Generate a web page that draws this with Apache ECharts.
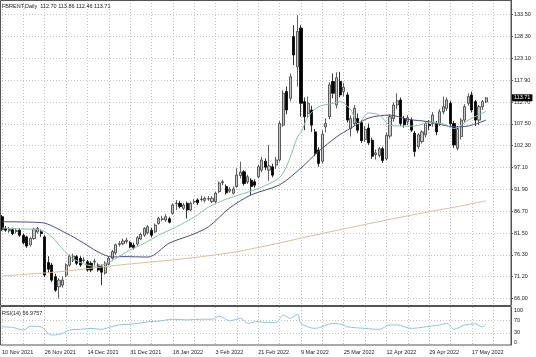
<!DOCTYPE html>
<html><head><meta charset="utf-8">
<script src="https://cdn.jsdelivr.net/npm/echarts@6/dist/echarts.min.js"></script>
<style>html,body{margin:0;padding:0;background:#fff}#c{width:536px;height:357px}</style>
</head><body><div id="c"></div>
<script>
const dates = ['10 Nov 2021','11 Nov 2021','12 Nov 2021','15 Nov 2021','16 Nov 2021','17 Nov 2021','18 Nov 2021','19 Nov 2021','22 Nov 2021','23 Nov 2021','24 Nov 2021','25 Nov 2021','26 Nov 2021','29 Nov 2021','30 Nov 2021',
'1 Dec 2021','2 Dec 2021','3 Dec 2021','6 Dec 2021','7 Dec 2021','8 Dec 2021','9 Dec 2021','10 Dec 2021','13 Dec 2021','14 Dec 2021','15 Dec 2021','16 Dec 2021','17 Dec 2021','20 Dec 2021','21 Dec 2021','22 Dec 2021','23 Dec 2021','27 Dec 2021','28 Dec 2021','29 Dec 2021','30 Dec 2021','31 Dec 2021',
'3 Jan 2022','4 Jan 2022','5 Jan 2022','6 Jan 2022','7 Jan 2022','10 Jan 2022','11 Jan 2022','12 Jan 2022','13 Jan 2022','14 Jan 2022','17 Jan 2022','18 Jan 2022','19 Jan 2022','20 Jan 2022','21 Jan 2022','24 Jan 2022','25 Jan 2022','26 Jan 2022','27 Jan 2022','28 Jan 2022','31 Jan 2022',
'1 Feb 2022','2 Feb 2022','3 Feb 2022','4 Feb 2022','7 Feb 2022','8 Feb 2022','9 Feb 2022','10 Feb 2022','11 Feb 2022','14 Feb 2022','15 Feb 2022','16 Feb 2022','17 Feb 2022','18 Feb 2022','21 Feb 2022','22 Feb 2022','23 Feb 2022','24 Feb 2022','25 Feb 2022','28 Feb 2022',
'1 Mar 2022','2 Mar 2022','3 Mar 2022','4 Mar 2022','7 Mar 2022','8 Mar 2022','9 Mar 2022','10 Mar 2022','11 Mar 2022','14 Mar 2022','15 Mar 2022','16 Mar 2022','17 Mar 2022','18 Mar 2022','21 Mar 2022','22 Mar 2022','23 Mar 2022','24 Mar 2022','25 Mar 2022','28 Mar 2022','29 Mar 2022','30 Mar 2022','31 Mar 2022',
'1 Apr 2022','4 Apr 2022','5 Apr 2022','6 Apr 2022','7 Apr 2022','8 Apr 2022','11 Apr 2022','12 Apr 2022','13 Apr 2022','14 Apr 2022','18 Apr 2022','19 Apr 2022','20 Apr 2022','21 Apr 2022','22 Apr 2022','25 Apr 2022','26 Apr 2022','27 Apr 2022','28 Apr 2022','29 Apr 2022',
'2 May 2022','3 May 2022','4 May 2022','5 May 2022','6 May 2022','9 May 2022','10 May 2022','11 May 2022','12 May 2022','13 May 2022','16 May 2022','17 May 2022','18 May 2022','19 May 2022','20 May 2022','23 May 2022','24 May 2022','25 May 2022','26 May 2022','27 May 2022','30 May 2022','31 May 2022','1 Jun 2022'];

// [open, high, low, close]
const candles = [
[85.4,85.8,82.0,82.4],[82.6,83.2,81.8,82.2],[82.0,83.0,81.6,82.4],[82.3,82.8,81.0,81.4],[81.9,82.6,81.4,82.1],
[82.2,82.6,80.6,81.0],[81.0,81.4,78.8,79.2],[80.6,80.9,78.0,78.4],[78.7,80.6,78.3,80.2],[80.2,82.8,79.9,82.4],
[81.8,83.0,81.4,82.6],[81.8,82.4,80.6,81.4],[80.6,81.0,71.0,71.5],[74.5,76.0,72.0,72.9],[73.9,74.4,69.8,70.3],
[71.1,71.8,67.5,67.9],[68.7,70.8,65.9,70.3],[69.1,71.2,68.5,70.3],[71.5,74.3,71.0,73.9],[73.9,76.4,73.5,76.0],
[75.1,76.6,74.6,76.0],[75.9,76.3,73.9,74.3],[75.5,76.0,73.5,73.9],[75.0,75.8,74.5,75.1],[74.7,75.1,72.3,72.7],
[74.3,74.8,72.2,72.7],[74.6,75.4,73.8,74.8],[73.9,74.3,72.3,72.7],[73.6,74.0,69.1,72.2],[72.0,74.8,71.6,74.4],
[74.1,76.0,73.8,75.5],[75.5,77.5,75.2,77.1],[76.8,79.0,76.3,78.7],[78.8,79.6,78.3,79.0],[79.0,80.2,78.6,79.6],
[79.5,80.4,79.0,79.8],[79.2,79.6,77.9,78.2],[78.6,79.2,77.6,78.0],[78.9,80.8,78.5,80.4],[80.1,81.6,79.8,81.2],
[81.0,82.9,80.6,82.6],[81.6,83.4,81.2,83.0],[82.2,82.8,80.5,81.0],[81.8,83.8,81.5,83.4],[83.8,85.4,83.5,85.0],
[84.8,85.6,84.3,84.9],[84.6,86.0,84.2,85.4],[84.9,85.4,83.8,84.1],[86.2,88.6,85.9,88.2],[88.5,89.4,87.0,88.6],
[88.6,89.2,87.4,87.8],[87.4,88.7,87.0,88.2],[88.6,89.0,85.0,87.0],[87.0,89.0,86.7,88.6],[88.9,89.6,88.4,89.0],
[89.4,89.8,88.2,88.7],[89.5,90.4,89.0,89.6],[89.3,90.2,88.8,89.8],[89.6,90.3,89.2,89.7],[89.0,90.3,88.6,89.8],
[89.0,91.4,88.7,91.0],[91.4,93.8,91.0,93.4],[93.5,94.2,92.9,93.7],[92.6,93.1,90.7,91.1],[91.5,92.5,91.1,91.9],
[91.0,92.6,90.7,92.0],[92.6,96.9,92.3,95.3],[95.2,98.5,94.5,96.0],[96.1,96.5,92.8,93.3],[93.7,95.4,93.2,94.9],
[94.1,94.6,90.6,92.6],[93.7,94.3,92.3,92.9],[94.9,97.8,94.5,97.3],[96.5,99.7,96.0,98.9],[98.6,99.3,96.5,97.2],
[96.5,102.5,94.0,97.5],[97.3,98.0,94.8,95.3],[97.7,99.6,96.8,98.9],[98.9,108.2,98.5,107.6],[107.2,115.5,106.8,114.8],
[115.2,116.4,109.8,110.8],[113.6,119.5,112.9,118.7],[128.3,131.0,121.5,123.9],[121.1,133.4,116.4,129.5],[130.3,131.0,109.2,112.4],
[112.8,113.8,106.0,109.2],[110.0,114.0,108.9,112.4],[110.8,111.8,105.6,107.2],[105.6,106.3,99.8,100.5],[101.3,102.0,97.3,98.1],
[98.6,106.0,98.0,105.0],[106.8,108.8,105.5,107.6],[109.2,117.4,108.6,116.8],[117.6,119.5,113.6,114.8],[112.0,119.8,111.2,118.5],
[117.6,119.9,113.8,114.4],[115.2,117.3,114.0,116.2],[114.4,115.0,107.8,108.4],[106.4,109.5,104.5,108.8],[107.6,112.0,107.0,111.2],
[108.8,110.0,105.3,106.0],[107.8,108.4,103.0,103.5],[103.8,107.0,103.2,106.2],[106.5,107.6,102.5,103.0],[103.6,104.2,99.2,99.8],
[100.2,101.4,99.0,100.6],[100.0,102.0,99.5,101.6],[101.6,102.1,98.2,98.8],[99.2,105.4,98.8,104.8],[104.6,109.8,104.0,109.2],
[108.8,112.6,108.0,112.0],[112.0,114.8,111.0,113.0],[113.2,113.8,107.0,107.6],[108.6,109.4,106.6,107.3],[108.0,109.6,107.2,108.9],
[108.4,109.0,105.6,106.0],[105.3,105.8,99.7,100.9],[102.1,105.3,101.5,104.9],[103.3,106.0,102.8,105.6],[104.9,108.1,104.3,107.6],
[107.4,108.4,106.0,107.1],[107.6,110.3,106.8,109.6],[107.6,108.2,104.8,105.6],[107.6,111.0,107.0,110.4],[110.4,114.0,109.8,111.6],
[111.2,113.8,110.6,113.2],[112.4,113.0,107.0,107.6],[107.6,108.2,101.8,102.5],[101.7,107.0,101.2,106.4],[104.5,108.9,103.8,108.4],
[108.4,112.2,107.8,111.6],[112.4,114.8,111.8,114.0],[114.4,115.2,110.2,110.8],[112.8,113.2,107.0,108.4],[108.4,112.0,107.2,111.6],
[111.6,113.2,110.8,112.8],[112.70,113.86,112.46,113.71]];

// moving averages: [bar index, value]
const maFast = [[0,82.7],[5,82.5],[11,82.2],[14,80.6],[16,78.7],[19,76.0],[22,74.5],[26,73.6],[30,74.5],[33,76.0],[36,77.5],[40,79.1],[44,81.0],[49,83.0],[54,85.3],[58,87.7],[61,88.9],[64,89.9],[71,91.8],[77,94.1],[79,95.8],[81,99.6],[83,104.4],[84,105.5],[86,109.2],[89,111.6],[93,112.4],[95,112.8],[98,110.8],[100,107.5],[103,110.1],[106,109.6],[109,107.2],[112,107.0],[116,107.0],[120,107.8],[124,107.5],[127,106.4],[131,108.4],[136,110.5]];
const maSlow = [[0,84.2],[11,84.0],[18,81.5],[23,79.1],[27,77.0],[31,75.8],[34,75.9],[41,75.8],[47,79.1],[53,81.0],[58,83.0],[64,87.5],[70,90.6],[78,93.0],[84,97.0],[89,101.0],[94,104.4],[98,106.5],[103,108.9],[109,109.6],[114,108.6],[120,108.0],[127,106.8],[131,107.0],[136,108.4]];
const ma200 = [[0,71.3],[16,72.3],[33,73.9],[50,75.3],[64,76.8],[75,78.6],[84,80.3],[96,82.5],[108,84.6],[120,86.6],[128,87.8],[136,89.2]];
const rsi = [[0,49],[3,47],[6,39],[8,51],[11,49],[13,28],[14,23],[17,28],[19,39],[22,41],[25,44],[28,41],[30,47],[33,55],[37,58],[41,65],[44,67],[48,73],[52,71],[56,73],[59,73],[61,83],[64,68],[67,76],[69,60],[72,66],[74,63],[77,63],[79,86],[81,76],[83,89],[84,60],[88,44],[93,60],[96,55],[97,49],[102,44],[106,41],[109,55],[111,55],[115,44],[119,49],[123,55],[125,60],[127,41],[130,55],[133,58],[135,49],[136,57]];
const priceTicks = [66.00,71.20,76.30,81.50,86.70,91.90,97.10,102.30,107.50,112.70,117.90,123.10,128.30,133.50];
const rsiLabels = [0,30,70,100];
const rsiLevels = [30,70];
const rsiLast = '56.9757';

const last = candles[candles.length-1];
const FONT = '"Liberation Sans", Arial, sans-serif';
const FS = 5.5;
const GRID = '#c4c4c4';
const chart = echarts.init(document.getElementById('c'), null, {renderer:'canvas'});
const axisText = {fontSize:FS, color:'#222', fontFamily:FONT};
chart.setOption({
  animation:false,
  backgroundColor:'#fff',
  textStyle:{fontFamily:FONT},
  title:[
    {text:'FBRENT,Daily  ' + last.map(v=>v.toFixed(2)).join(' '), left:2, top:3, padding:0,
     textStyle:{fontSize:FS, fontWeight:'normal', color:'#222', fontFamily:FONT}},
    {text:'RSI(14) ' + rsiLast, left:2, top:310, padding:0,
     textStyle:{fontSize:FS, fontWeight:'normal', color:'#222', fontFamily:FONT}}
  ],
  grid:[
    {left:2, top:0, width:509, height:305, outerBoundsMode:'none'},
    {left:2, top:307, width:509, height:38, outerBoundsMode:'none'}
  ],
  graphic:[
    {type:'rect', shape:{x:0.5, y:0.5, width:510.5, height:305}, style:{fill:null, stroke:'#555', lineWidth:1}, z:100},
    {type:'rect', shape:{x:0.5, y:306.5, width:510.5, height:38.5}, style:{fill:null, stroke:'#555', lineWidth:1}, z:100}
  ],
  xAxis:[
    {type:'category', gridIndex:0, data:dates, boundaryGap:false,
     axisLine:{show:false}, axisTick:{show:false}, axisLabel:{show:false},
     splitLine:{show:true, interval:5, lineStyle:{color:GRID, type:[1,2], width:1}}},
    {type:'category', gridIndex:1, data:dates, boundaryGap:false,
     axisLine:{show:false}, axisTick:{show:false},
     axisLabel:Object.assign({show:true, interval:11, align:'left', margin:4}, axisText),
     splitLine:{show:true, interval:5, lineStyle:{color:GRID, type:[1,2], width:1}}}
  ],
  yAxis:[
    {type:'value', gridIndex:0, position:'right', min:64.38, max:137.0, scale:true,
     axisLine:{show:true, lineStyle:{color:'#555', width:1}},
     axisTick:{show:true, customValues:priceTicks, length:2, lineStyle:{color:'#555'}},
     axisLabel:Object.assign({customValues:priceTicks, formatter:v=>v.toFixed(2), margin:3}, axisText),
     splitLine:{show:true, lineStyle:{color:GRID, type:[1,2], width:1}}},
    {type:'value', gridIndex:1, position:'right', min:-8.5, max:111.7,
     axisLine:{show:true, lineStyle:{color:'#555', width:1}},
     axisTick:{show:false, customValues:rsiLevels},
     axisLabel:Object.assign({customValues:rsiLabels, formatter:v=>String(v), margin:3}, axisText),
     splitLine:{show:true, lineStyle:{color:GRID, type:[1,2], width:1}}}
  ],
  series:[
    {type:'candlestick', xAxisIndex:0, yAxisIndex:0, barWidth:2.6,
     data:candles.map(r=>[r[0], r[3], r[2], r[1]]),
     itemStyle:{color:'#c6c6c6', color0:'#000', borderColor:'#3a3a3a', borderColor0:'#000', borderWidth:0.8},
     markLine:{silent:true, symbol:['none','none'], animation:false,
       data:[{yAxis:last[3]}],
       lineStyle:{color:'rgba(0,0,0,0)', width:0},
       label:{show:true, position:'end', distance:1, formatter:p=>Number(p.value).toFixed(2),
              backgroundColor:'#000', color:'#fff', fontSize:FS, fontFamily:FONT, padding:[1,2,0,2]}}},
    {type:'line', xAxisIndex:0, yAxisIndex:0, data:ma200, showSymbol:false, smooth:0.3,
     lineStyle:{width:1, color:'#dcc09a'}, z:3},
    {type:'line', xAxisIndex:0, yAxisIndex:0, data:maSlow, showSymbol:false, smooth:0.3,
     lineStyle:{width:1, color:'#4b4b8f'}, z:3},
    {type:'line', xAxisIndex:0, yAxisIndex:0, data:maFast, showSymbol:false, smooth:0.3,
     lineStyle:{width:1, color:'#86c4a4'}, z:3},
    {type:'line', xAxisIndex:1, yAxisIndex:1, data:rsi, showSymbol:false, smooth:0.3,
     lineStyle:{width:1, color:'#8cc6de'}}
  ]
});
</script></body></html>
